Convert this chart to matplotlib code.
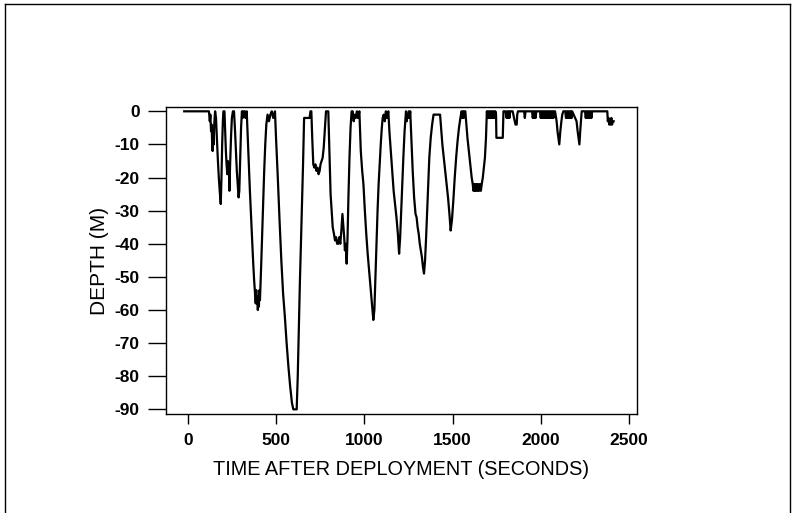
import matplotlib
matplotlib.use("Agg")
import matplotlib.pyplot as plt
from matplotlib.lines import Line2D

# ----------------------
# Dive profile
# ----------------------
time_s = [
    -20, 120, 125, 128, 132, 135, 138, 141, 144, 147, 150, 155, 160, 165, 170, 176, 181, 187,
    191, 195, 199, 202, 208, 212, 216, 220, 224, 227, 230, 233, 236, 240, 245, 250, 256, 262,
    268, 273, 278, 283, 288, 292, 297, 302, 307, 311, 315, 319, 323, 327, 334,
    340, 346, 352, 358, 364, 370, 376, 381, 385, 388, 391, 394, 397, 400, 403, 406, 409,
    415, 421, 427, 433, 439, 445, 452, 460, 468, 476, 484, 494,
    500, 510, 520, 530, 540, 550, 560, 570, 580, 590, 598, 617,
    623, 629, 635, 641, 647, 653, 659, 690, 695, 700,
    705, 711, 717, 723, 729, 735, 741, 747, 752, 758, 764, 770, 776, 783, 796,
    802, 809, 815, 821, 828, 834, 840, 846, 852, 858, 864, 870, 876, 882, 886, 890, 895, 900,
    905, 910, 916, 922, 928, 934, 940, 946, 952, 958, 964, 972,
    980, 988, 995, 1003, 1011, 1019, 1027, 1035, 1043, 1051, 1057,
    1063, 1069, 1075, 1081, 1087, 1093, 1099, 1104, 1110, 1116, 1122, 1128, 1136,
    1142, 1150, 1158, 1166, 1174, 1182, 1190, 1197, 1203, 1209, 1215, 1221, 1228, 1236,
    1240, 1244, 1248, 1252, 1256, 1260,
    1266, 1274, 1282, 1290, 1296, 1302, 1308, 1314, 1320, 1326, 1332, 1338,
    1344, 1350, 1356, 1362, 1368, 1376, 1384, 1392, 1398, 1429,
    1435, 1442, 1450, 1458, 1466, 1474, 1482, 1489, 1496, 1504, 1512, 1520, 1528, 1536, 1544,
    1551, 1555, 1559, 1563, 1567, 1572,
    1578, 1584, 1590, 1596, 1602, 1608, 1614, 1618, 1622, 1626, 1630, 1634, 1638, 1642, 1646,
    1650, 1655, 1660, 1665, 1671, 1677, 1683, 1689, 1694,
    1698, 1702, 1706, 1710, 1714, 1718, 1722, 1726, 1730, 1734, 1738, 1742, 1746, 1748, 1784, 1788,
    1800, 1806, 1810, 1814, 1818, 1822, 1826, 1840, 1848, 1856, 1863, 1866, 1870,
    1905, 1909, 1913, 1950, 1954, 1958, 1962, 1966, 1970, 1974,
    1995, 1999, 2003, 2007, 2011, 2015, 2019, 2023, 2027, 2031, 2035, 2039, 2043, 2047, 2051,
    2055, 2059, 2063, 2067, 2071, 2075, 2080,
    2089, 2094, 2099, 2104, 2110, 2116, 2121, 2127,
    2138, 2142, 2146, 2150, 2154, 2158, 2162, 2166, 2170, 2174, 2177,
    2202, 2208, 2213, 2218, 2224, 2231,
    2250, 2254, 2258, 2262, 2266, 2270, 2274, 2278, 2282, 2286, 2290,
    2376, 2379, 2383, 2387, 2391, 2395, 2399, 2403, 2407, 2412,
]

depth_m = [
    0, 0, -3, -1, -6, -4, -9, -12, -7, -10, -4, 0, -2, -8, -14, -20, -24, -28,
    -20, -10, -3, 0, 0, -6, -12, -16, -19, -15, -18, -16, -24, -16, -8, -2, 0, 0,
    -6, -12, -18, -22, -26, -24, -14, -5, 0, -2, 0, -1, 0, -2, 0,
    -8, -16, -24, -31, -38, -45, -51, -55, -58, -54, -58, -56, -60, -56, -59, -54, -57,
    -48, -38, -28, -18, -10, -4, -1, -3, -1, 0, -2, 0,
    -8, -20, -33, -45, -55, -62, -70, -77, -83, -88, -90, -90,
    -80, -66, -52, -40, -28, -16, -2, -2, 0, 0,
    -8, -16, -17, -16, -18, -17, -19, -18, -16, -15, -14, -11, -6, 0, 0,
    -12, -25, -30, -35, -37, -39, -38, -40, -40, -38, -40, -36, -31, -35, -38, -42, -40, -46,
    -38, -26, -14, -5, 0, 0, -3, -1, -2, 0, -2, 0,
    -12, -18, -22, -30, -37, -43, -48, -53, -58, -63, -60,
    -50, -40, -30, -22, -16, -10, -5, -2, -1, -3, 0, -2, 0,
    -6, -12, -18, -24, -28, -32, -37, -43, -38, -30, -22, -14, -6, 0,
    -3, -1, -2, 0, -2, 0,
    -8, -18, -26, -31, -32, -35, -37, -40, -42, -44, -47, -49,
    -45, -38, -30, -22, -14, -8, -4, -1, -1, -1,
    -5, -10, -14, -18, -22, -26, -31, -36, -33, -27, -20, -14, -9, -5, -2,
    0, -2, 0, -2, 0, 0,
    -4, -8, -11, -14, -17, -20, -22, -24, -22, -24, -22, -24, -22, -24, -22,
    -24, -22, -24, -22, -20, -17, -14, -8, 0,
    -2, 0, -2, 0, -2, 0, -2, 0, -2, 0, -2, 0, -1, -8, -8, 0,
    0, -2, 0, -2, 0, -2, 0, 0, -2, -4, -4, -1, 0,
    0, -2, 0, 0, -2, 0, -2, 0, -2, 0,
    0, -2, 0, -2, 0, -2, 0, -2, 0, -2, 0, -2, 0, -2, 0,
    -2, 0, -2, 0, -2, 0, 0,
    -3, -6, -8, -10, -6, -3, -1, 0,
    0, -2, 0, -2, 0, -2, 0, -2, 0, -2, 0,
    -3, -6, -8, -10, -5, 0,
    0, -2, 0, -2, 0, -2, 0, -2, 0, -2, 0,
    0, -3, -2, -4, -3, -4, -2, -4, -3, -3,
]

x_ticks = [0, 500, 1000, 1500, 2000, 2500]
y_ticks = [0, -10, -20, -30, -40, -50, -60, -70, -80, -90]

plt.rcParams['font.family'] = ['Liberation Sans', 'DejaVu Sans']

fig = plt.figure(figsize=(7.97, 5.13), dpi=100)
ax = fig.add_axes([0.2083, 0.193, 0.5909, 0.5984])

ax.plot(time_s, depth_m, color='black', linewidth=1.6)

ax.set_xlim(-123, 2544)
ax.set_ylim(-91.4, 1.3)
ax.set_xticks(x_ticks)
ax.set_yticks(y_ticks)
ax.set_xticklabels([str(v) for v in x_ticks], fontweight='bold', fontsize=12.5)
ax.set_yticklabels([str(v) for v in y_ticks], fontweight='bold', fontsize=12.5)
ax.tick_params(axis='x', direction='out', length=7, width=1, pad=7)
ax.tick_params(axis='y', direction='out', length=13, width=1, pad=6)
for s in ax.spines.values():
    s.set_linewidth(1)

ax.set_xlabel("TIME AFTER DEPLOYMENT (SECONDS)", fontsize=14.3, labelpad=8)
ax.set_ylabel("DEPTH (M)", fontsize=15, labelpad=4)

# outer frame of the scanned page
for xs, ys in [([0.0063, 0.0063], [0, 0.992]), ([0.991, 0.991], [0, 0.992]),
               ([0.0063, 0.991], [0.992, 0.992])]:
    fig.add_artist(Line2D(xs, ys, transform=fig.transFigure, color='black', linewidth=1))

fig.savefig("out.png", dpi=100)
